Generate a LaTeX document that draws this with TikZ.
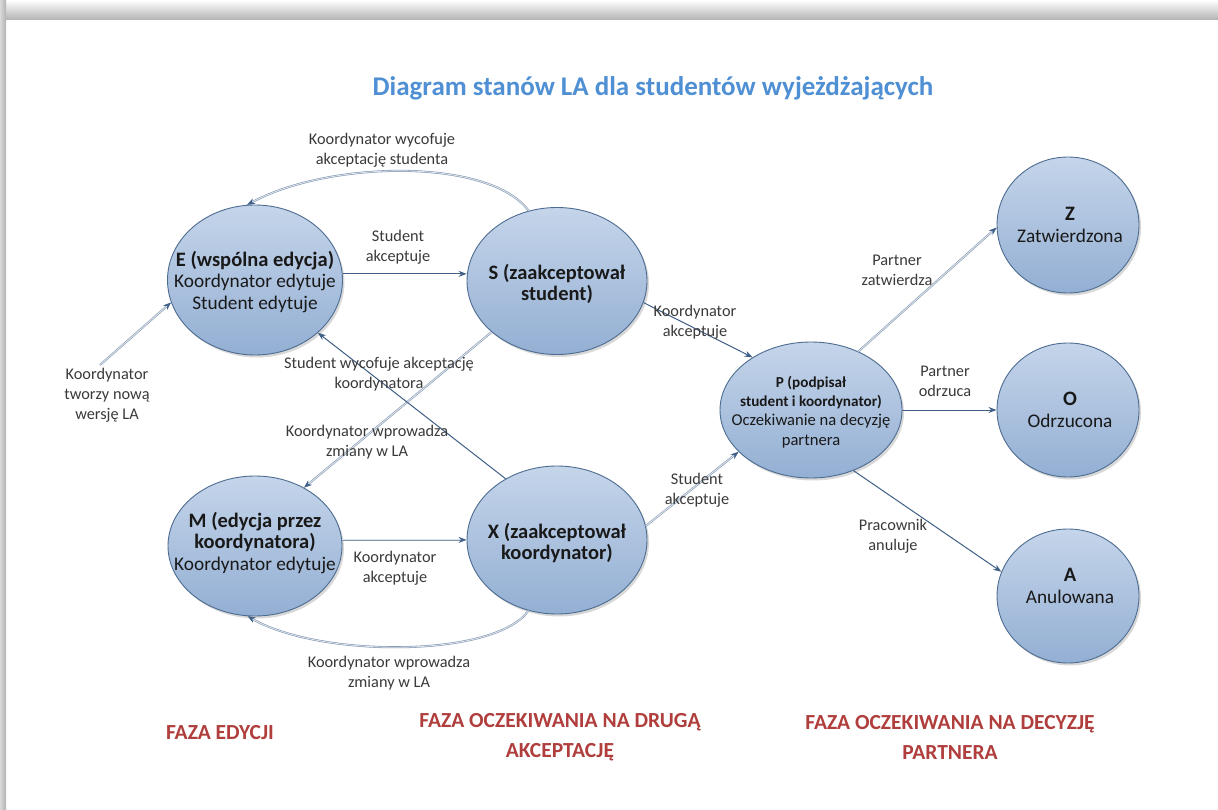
\documentclass[tikz,border=0pt]{standalone}
\usepackage{fontspec}
\setmainfont{Carlito}
\usetikzlibrary{shapes.geometric,arrows.meta,shadows}
\definecolor{nodeTop}{HTML}{C5D5EA}
\definecolor{nodeBot}{HTML}{93AFD3}
\definecolor{nodeLine}{HTML}{4D6C91}
\definecolor{edgeCol}{HTML}{3F5F86}
\definecolor{edgeLight}{HTML}{7F95B1}
\definecolor{titleBlue}{HTML}{4F8FD3}
\definecolor{phaseRed}{HTML}{B03E3C}
\definecolor{labelGray}{HTML}{3A3A3A}
\newcommand\pbfont{\bfseries\fontsize{15.2}{19.3}\selectfont}
\newcommand\sbfont{\bfseries\fontsize{20.5}{21.8}\selectfont}
\begin{document}
\begin{tikzpicture}[x=1pt,y=-1pt,
 state/.style={ellipse, draw=nodeLine, line width=0.9pt, top color=nodeTop, bottom color=nodeBot, inner sep=0pt,
   drop shadow={opacity=0.3,shadow xshift=2pt,shadow yshift=-2.5pt}},
 stxt/.style={align=center, font=\fontsize{19.3}{21.8}\selectfont, text=black!90},
 ptxt/.style={align=center, font=\fontsize{16.6}{19.3}\selectfont, text=black!90},
 elab/.style={align=center, font=\fontsize{16.3}{20}\selectfont, text=labelGray},
 trans/.style={draw=edgeCol, line width=1pt, -{Stealth[length=8pt,width=6pt,color=edgeCol]}},
 transl/.style={draw=edgeLight, double=white!75!edgeLight, line width=0.55pt, double distance=0.9pt,
   -{Stealth[length=8pt,width=6pt,color=edgeCol,fill=edgeCol]}},
 phase/.style={align=center, text=phaseRed, font=\bfseries\fontsize{21.5}{30}\selectfont}
]
\useasboundingbox (0,0) rectangle (1218,810);
\fill[white] (0,0) rectangle (1218,810);
\shade[top color=white, bottom color=black!30] (0,0) rectangle (1218,20);
\shade[left color=black!15, right color=black!30] (0,0) rectangle (6,810);

\node[font=\bfseries\fontsize{27}{30}\selectfont, text=titleBlue] (title) at (653,88) {Diagram stanów LA dla studentów wyjeżdżających};

% states
\node[state, minimum width=175pt, minimum height=150pt] (E) at (255,280) {};
\node[stxt] (Et) at (255,282) {{\sbfont E (wspólna edycja)}\\Koordynator edytuje\\Student edytuje};
\node[state, minimum width=180pt, minimum height=147pt] (S) at (557,281) {};
\node[stxt] (St) at (557,284) {{\sbfont S (zaakceptował}\\{\sbfont student)}};
\node[state, minimum width=174pt, minimum height=140pt] (M) at (255,546) {};
\node[stxt] (Mt) at (255,543) {{\sbfont M (edycja przez}\\{\sbfont koordynatora)}\\Koordynator edytuje};
\node[state, minimum width=180pt, minimum height=148pt] (X) at (557,540) {};
\node[stxt] (Xt) at (557,543) {{\sbfont X (zaakceptował}\\{\sbfont koordynator)}};
\node[state, minimum width=182pt, minimum height=136pt] (P) at (811,410) {};
\node[ptxt] (Pt) at (811,412) {{\pbfont P (podpisał}\\{\pbfont student i koordynator)}\\Oczekiwanie na decyzję\\partnera};
\node[state, minimum width=142pt, minimum height=136pt] (Z) at (1068,225) {};
\node[stxt] (Zt) at (1070,225) {{\sbfont Z}\\Zatwierdzona};
\node[state, minimum width=142pt, minimum height=134pt] (O) at (1068,410) {};
\node[stxt] (Ot) at (1070,410) {{\sbfont O}\\Odrzucona};
\node[state, minimum width=142pt, minimum height=134pt] (A) at (1068,596) {};
\node[stxt] (At) at (1070,586) {{\sbfont A}\\Anulowana};

% transitions
\coordinate (start) at (100,365);
\draw[transl] (start) -- (E.195);
\draw[trans] (E.4) -- (E.4 -| S.west);
\draw[transl] (S.112) .. controls (490,158) and (330,160) .. (E.96);
\draw[transl] (S.218) -- (M.50);
\draw[trans] (X.130) -- (E.-40);
\draw[transl] (M.4) -- (M.4 -| X.west);
\draw[transl] (X.248) .. controls (495,658) and (320,658) .. (M.264);
\draw[trans] (S.-14) -- (P.138);
\draw[transl] (X.9) -- (P.210);
\draw[transl] (P.51) -- (Z.182);
\draw[trans] (P.east) -- (O.west);
\draw[trans] (P.-55) -- (A.160);

% labels
\node[elab] (l1) at (382,150) {Koordynator wycofuje\\akceptację studenta};
\node[elab] (l2) at (398,247) {Student\\akceptuje};
\node[elab] (l3) at (107,395) {Koordynator\\tworzy nową\\wersję LA};
\node[elab] (l4) at (379,374) {Student wycofuje akceptację\\koordynatora};
\node[elab] (l5) at (367,442) {Koordynator wprowadza\\zmiany w LA};
\node[elab] (l6) at (395,568) {Koordynator\\akceptuje};
\node[elab] (l7) at (389,673) {Koordynator wprowadza\\zmiany w LA};
\node[elab] (l8) at (695,322) {Koordynator\\akceptuje};
\node[elab] (l9) at (697,490) {Student\\akceptuje};
\node[elab] (l10) at (897,270) {Partner\\zatwierdza};
\node[elab] (l11) at (945,381) {Partner\\odrzuca};
\node[elab] (l12) at (893,536) {Pracownik\\anuluje};

% phases
\node[phase] (f1) at (220,733) {FAZA EDYCJI};
\node[phase] (f2) at (560,737) {FAZA OCZEKIWANIA NA DRUGĄ\\AKCEPTACJĘ};
\node[phase] (f3) at (950,737) {FAZA OCZEKIWANIA NA DECYZJĘ\\PARTNERA};
\end{tikzpicture}
\end{document}
